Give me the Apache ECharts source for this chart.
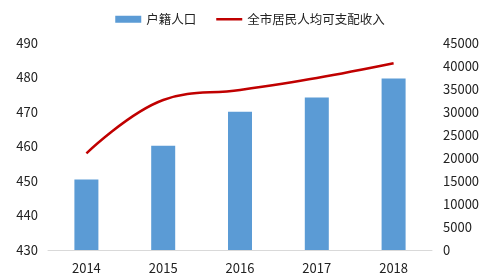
<!DOCTYPE html>
<html><head><meta charset="utf-8">
<script src="https://cdn.jsdelivr.net/npm/echarts@6/dist/echarts.min.js"></script>
<style>html,body{margin:0;padding:0;background:#fff}#c{width:500px;height:280px}</style>
</head><body><div id="c"></div>
<script>
const categories = ['2014','2015','2016','2017','2018'];
const population = [450.4, 460.2, 470.1, 474.2, 479.7];
const income = [21000, 32600, 34800, 37400, 40600];
const leftTicks = {min:430, max:490, interval:10};
const rightTicks = {min:0, max:45000, interval:5000};
const font = '"Noto Sans CJK SC", "Noto Sans", sans-serif';
const chart = echarts.init(document.getElementById('c'));
chart.setOption({
  animation:false,
  textStyle:{fontFamily:font},
  legend:{top:8, left:'center', itemGap:20, itemWidth:26, itemHeight:7,
    textStyle:{fontSize:12.5, color:'#222', fontFamily:font},
    data:[{name:'户籍人口', icon:'rect'},
          {name:'全市居民人均可支配收入', icon:'path://M0,2.2H26V4.8H0Z M0,0L0,7Z'}]},
  grid:{left:48, right:68, top:43, bottom:30},
  xAxis:{type:'category', data:categories,
    axisLine:{lineStyle:{color:'#d9d9d9'}}, axisTick:{show:false},
    axisLabel:{color:'#222', fontSize:13, margin:12, fontFamily:font}},
  yAxis:[
    {type:'value', min:leftTicks.min, max:leftTicks.max, interval:leftTicks.interval,
     splitLine:{show:false}, axisLine:{show:false}, axisTick:{show:false},
     axisLabel:{color:'#222', fontSize:13, margin:10, fontFamily:font}},
    {type:'value', min:rightTicks.min, max:rightTicks.max, interval:rightTicks.interval,
     splitLine:{show:false}, axisLine:{show:false}, axisTick:{show:false},
     axisLabel:{color:'#222', fontSize:13, margin:11, fontFamily:font, formatter:v=>String(v)}}
  ],
  series:[
    {name:'户籍人口', type:'bar', data:population, barWidth:24, itemStyle:{color:'#5B9BD5'}},
    {name:'全市居民人均可支配收入', type:'line', yAxisIndex:1, data:income, smooth:0.4,
     showSymbol:false, symbol:'none', lineStyle:{color:'#C00000', width:2.5}, itemStyle:{color:'#C00000'}}
  ]
});
</script></body></html>
